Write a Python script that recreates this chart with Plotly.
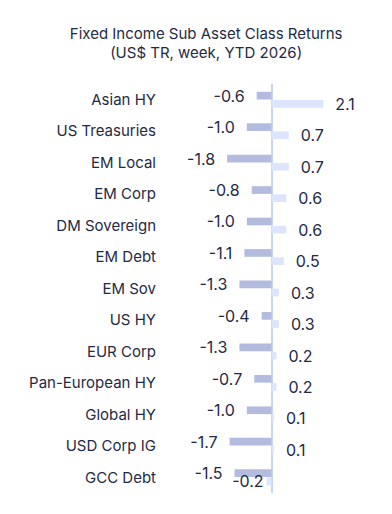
import plotly.graph_objects as go

categories = ["Asian HY", "US Treasuries", "EM Local", "EM Corp", "DM Sovereign", "EM Debt",
              "EM Sov", "US HY", "EUR Corp", "Pan-European HY", "Global HY", "USD Corp IG", "GCC Debt"]
week = [-0.6, -1.0, -1.8, -0.8, -1.0, -1.1, -1.3, -0.4, -1.3, -0.7, -1.0, -1.7, -1.5]
ytd = [2.1, 0.7, 0.7, 0.6, 0.6, 0.5, 0.3, 0.3, 0.2, 0.2, 0.1, 0.1, -0.2]

FONT = "Inter"
TXT = "#1f2a44"
NB = "\u00a0"

def lab(v, neg_pad=2):
    return (f"{v:.1f}" + NB * neg_pad) if v < 0 else (NB * 2 + f"{v:.1f}")

fig = go.Figure()
fig.add_trace(go.Bar(
    y=categories, x=week, orientation="h", name="week",
    marker=dict(color="#b3bcdf", line=dict(width=0)),
    text=[lab(v) for v in week], textposition="outside", cliponaxis=False,
    constraintext="none",
    textfont=dict(family=FONT, size=16, color=TXT),
))
fig.add_trace(go.Bar(
    y=categories, x=ytd, orientation="h", name="YTD 2026",
    marker=dict(color="#dce5fc", line=dict(width=0)),
    text=[lab(v, 0) for v in ytd], textposition="outside", cliponaxis=False,
    constraintext="none",
    textfont=dict(family=FONT, size=16, color=TXT),
))

fig.update_layout(
    width=384, height=506,
    margin=dict(l=155, r=12, t=76, b=21),
    paper_bgcolor="white", plot_bgcolor="white",
    barmode="group", bargap=0.48, bargroupgap=0.06,
    showlegend=False,
    title=dict(text="Fixed Income Sub Asset Class Returns<br>(US$ TR, week, YTD 2026)",
               x=0.516, xref="container", xanchor="center", y=0.939, yanchor="top",
               font=dict(family=FONT, size=15, color=TXT)),
    font=dict(family=FONT, size=15, color=TXT),
)
fig.update_xaxes(range=[-4.4, 4.4], showgrid=False, showticklabels=False, zeroline=True,
                 zerolinecolor="#c8d6f0", zerolinewidth=1.5, fixedrange=True)
fig.update_yaxes(autorange="reversed", showgrid=False, ticks="", ticklabelstandoff=6,
                 tickfont=dict(family=FONT, size=15, color=TXT))

fig.write_html("out.html")
